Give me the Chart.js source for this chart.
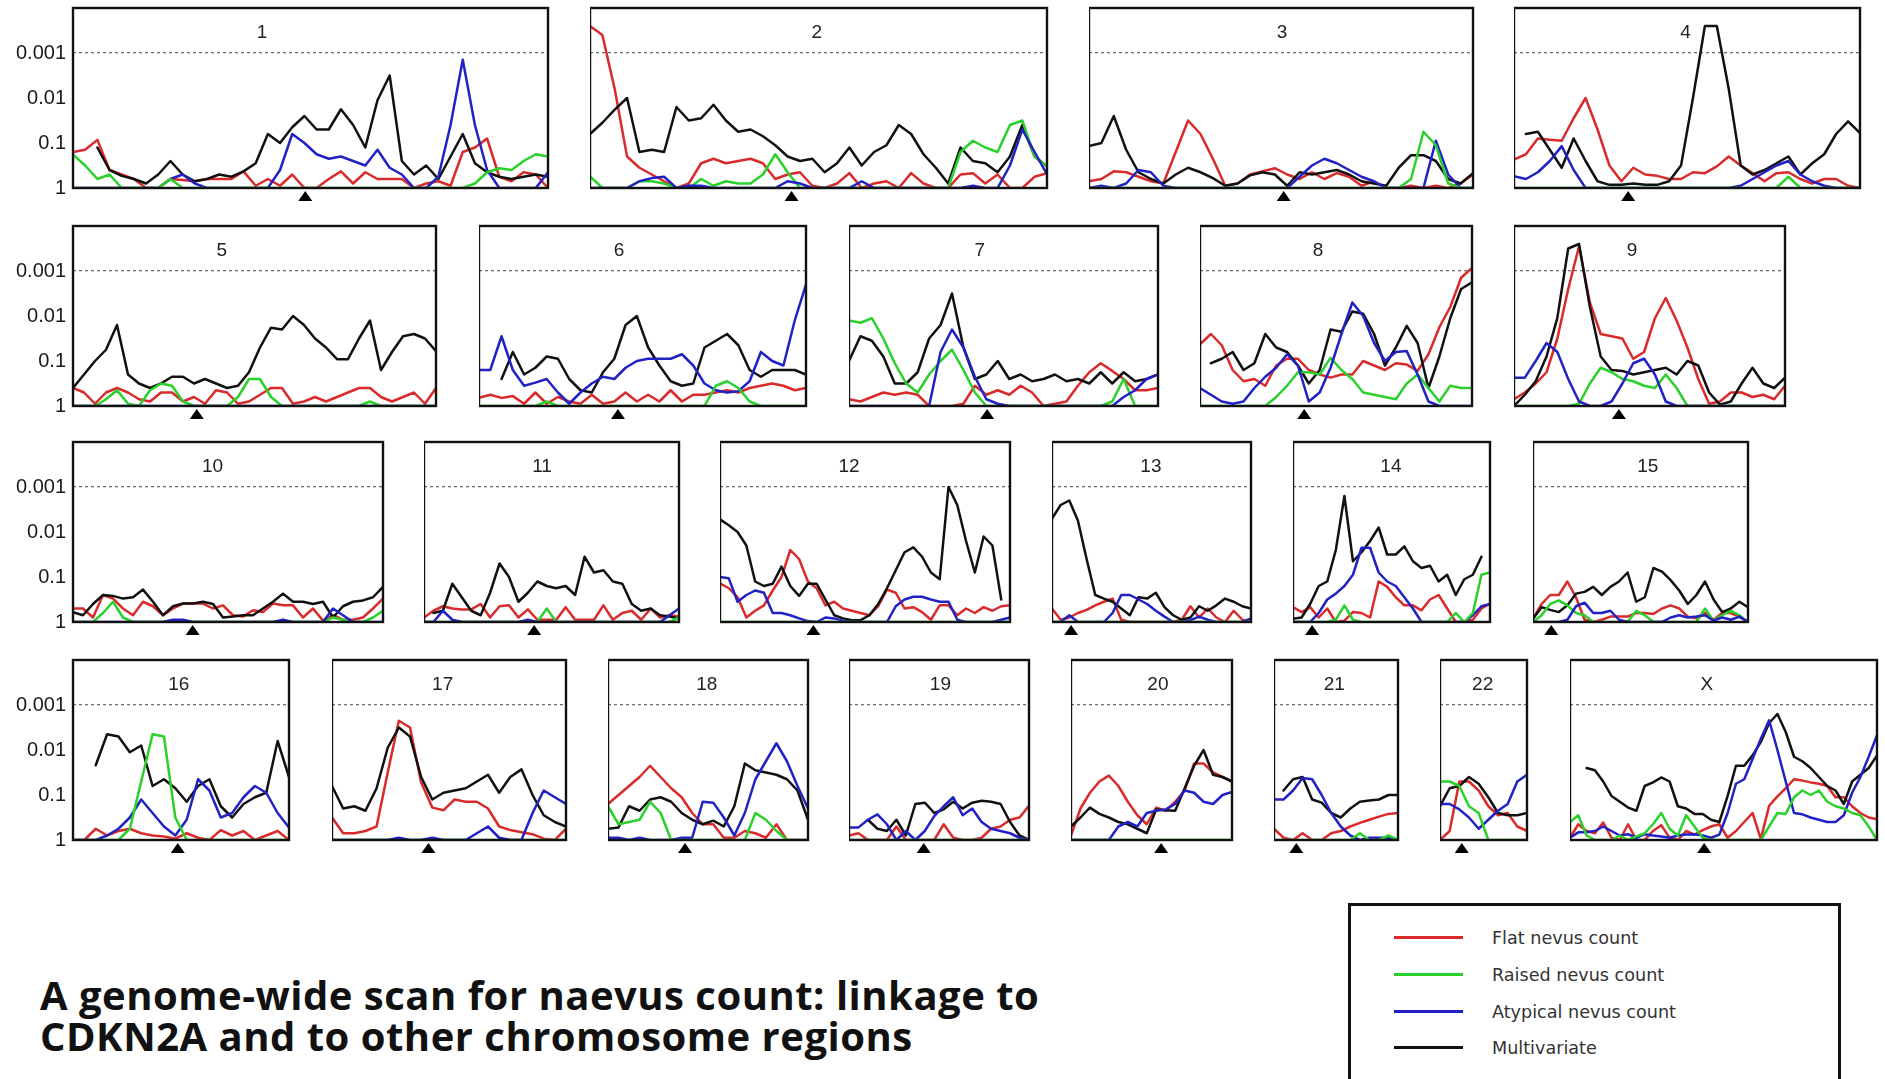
<!DOCTYPE html>
<html>
<head>
<meta charset="utf-8">
<title>Genome-wide scan for naevus count</title>
<script src="https://cdn.jsdelivr.net/npm/chart.js@4.4.1/dist/chart.umd.min.js"></script>
<style>
  html, body { margin: 0; padding: 0; background: #fff; }
  body { position: relative; width: 1885px; height: 1079px; overflow: hidden; }
  canvas { position: absolute; }
  #caption {
    position: absolute; left: 40px; top: 974px;
    font-family: "Open Sans", "DejaVu Sans", sans-serif; font-weight: 700;
    font-size: 40px; line-height: 41px; letter-spacing: 0.5px; color: #111; white-space: nowrap;
  }
  #legend {
    position: absolute; left: 1348px; top: 903px; width: 487px; height: 200px;
    border: 3px solid #111; background: #fff;
  }
  #legend .item {
    position: absolute; left: 43px; height: 24px; line-height: 24px;
    font-family: "DejaVu Sans", sans-serif; font-size: 17.6px; color: #333; white-space: nowrap;
  }
  #legend .swatch {
    position: absolute; left: 0; top: 10px; width: 69px; height: 3px;
  }
  #legend .text { position: absolute; left: 98px; top: 0; }
</style>
</head>
<body>
<div id="caption">A genome-wide scan for naevus count: linkage to<br>CDKN2A and to other chromosome regions</div>
<div id="legend"></div>
<script>
// -log10(p) values along each chromosome, one array per trait and chromosome.
const chromosomes = ['1','2','3','4','5','6','7','8','9','10','11','12','13','14','15','16','17','18','19','20','21','22','X'];
const pValueLabels = ['1', '0.1', '0.01', '0.001'];

const flat1 = [0.8,0.85,1.07,0.4,0.3,0.2,0,0,0.2,0.18, 0.15,0.2,0.2,0.2,0.37,0.05,0.2,0.05,0.3,0, 0,0.2,0.37,0.1,0.35,0.2,0.2,0.2,0,0.1, 0.15,0.05,0.8,0.9,1.1,0.25,0.15,0.35,0.3,0];
const raised1 = [0.74,0.5,0.2,0.3,0,0,0,0,0.2,0, 0,0,0,0,0,0,0,0,0,0, 0,0,0,0,0,0,0,0,0,0, 0,0,0,0.1,0.35,0.44,0.4,0.6,0.75,0.7];
const atyp1 = [0,0,0,0,0,0,0,0,0.2,0.3, 0.1,0,0,0,0,0,0,0.4,1.2,1.0, 0.75,0.65,0.7,0.6,0.5,0.85,0.45,0.3,0,0, 0.25,1.4,2.85,1.4,0.4,0,0,0,0,0.35];
const multi1 = [null,null,0.9,0.4,0.27,0.2,0.1,0.3,0.6,0.3, 0.15,0.2,0.3,0.25,0.37,0.55,1.2,1.0,1.35,1.6, 1.3,1.3,1.75,1.4,0.9,1.95,2.5,0.6,0.3,0.5, 0.2,0.7,1.2,0.55,0.35,0.25,0.2,0.25,0.3,0.25];

const flat2 = [3.6,3.4,2.2,0.7,0.45,0.3,0.15,0,0.1,0.55, 0.65,0.55,0.6,0.65,0.55,0.2,0.3,0.35,0.05,0, 0.1,0.33,0,0.1,0.15,0,0.33,0.1,0,0, 0.3,0.33,0.1,0.3,0,0,0.25,0.33];
const raised2 = [0.26,0,0,0,0.15,0.15,0.1,0,0,0.2, 0.05,0.15,0.1,0.1,0.3,0.75,0.35,0,0,0, 0,0,0,0,0,0,0,0,0,0, 0.8,1.05,0.9,0.8,1.4,1.5,0.7,0.48];
const atyp2 = [0,0,0,0,0.15,0.22,0.25,0,0.05,0.05, 0,0,0,0,0,0,0.15,0.1,0,0, 0,0,0.15,0,0,0,0,0,0,0, 0,0.05,0,0,0.5,1.3,0.8,0.3];
const multi2 = [1.2,1.45,1.74,2.0,0.8,0.85,0.8,1.8,1.5,1.55, 1.85,1.5,1.25,1.3,1.15,0.95,0.7,0.6,0.65,0.35, 0.55,0.9,0.5,0.8,0.95,1.4,1.2,0.75,0.45,0.1, 0.9,0.6,0.55,0.35,0.7,1.4,0.7,0.48];

const flat3 = [0.15,0.2,0.37,0.35,0.25,0.15,0.1,0.8,1.5,1.2, 0.65,0.05,0.1,0.3,0.37,0.44,0.3,0.2,0.35,0.2, 0.33,0.25,0.05,0.15,0,0,0.05,0,0.05,0, 0.1,0.3];
const raised3 = [0,0,0,0,0,0,0,0,0,0, 0,0,0,0,0,0,0,0,0,0, 0,0,0,0,0,0,0.2,1.25,0.95,0.1, 0,0];
const atyp3 = [0,0.05,0,0.1,0.4,0.35,0.05,0,0,0, 0,0,0,0,0,0,0,0.25,0.5,0.65, 0.55,0.4,0.25,0.15,0,0,0,0,1.05,0.3, 0,0];
const multi3 = [0.93,1.0,1.6,0.85,0.35,0.2,0.1,0.3,0.45,0.35, 0.22,0.05,0.1,0.28,0.35,0.3,0.05,0.35,0.3,0.35, 0.4,0.3,0.15,0.1,0.05,0.45,0.73,0.73,0.6,0.2, 0.1,0.33];

const flat4 = [0.63,0.75,1.1,1.07,1.05,1.55,2.0,1.3,0.5,0.15, 0.45,0.3,0.27,0.2,0.2,0.35,0.33,0.48,0.7,0.5, 0.33,0.15,0.33,0.35,0.2,0.1,0.2,0.2,0.05,0];
const raised4 = [0,0,0,0,0,0,0,0,0,0, 0,0,0,0,0,0,0,0,0,0, 0,0,0,0.25,0,0,0,0,0,0];
const atyp4 = [0.26,0.2,0.35,0.6,0.93,0.4,0,0,0,0, 0,0,0,0,0,0,0,0,0,0.05, 0.2,0.35,0.5,0.6,0.3,0.15,0.05,0,0,0];
const multi4 = [null,1.2,1.25,0.85,0.45,1.1,0.6,0.15,0.07,0.07, 0.1,0.07,0.07,0.15,0.5,2.0,3.6,3.6,2.2,0.5, 0.3,0.4,0.55,0.7,0.3,0.55,0.75,1.2,1.48,1.22];

const flat5 = [0.4,0.3,0.05,0.3,0.4,0.3,0.15,0.1,0.3,0.3, 0.1,0.2,0.05,0.35,0.3,0.05,0.1,0.25,0.4,0.4, 0.05,0.1,0.2,0.1,0.2,0.3,0.4,0.4,0.2,0.1, 0.2,0.3,0.05,0.4];
const raised5 = [0,0,0,0.15,0.35,0.05,0,0.35,0.5,0.45, 0.1,0,0,0,0,0.2,0.6,0.6,0.2,0, 0,0,0,0,0,0,0,0.1,0,0, 0,0,0,0];
const atyp5 = [0,0,0,0,0,0,0,0,0,0, 0,0,0,0,0,0,0,0,0,0, 0,0,0,0,0,0,0,0,0,0, 0,0,0,0];
const multi5 = [0.4,0.7,1.0,1.25,1.8,0.7,0.5,0.4,0.5,0.65, 0.65,0.5,0.6,0.5,0.4,0.45,0.75,1.3,1.74,1.7, 2.0,1.8,1.5,1.3,1.04,1.04,1.5,1.9,0.8,1.2, 1.55,1.6,1.5,1.22];

const flat6 = [0.18,0.25,0.18,0.22,0.05,0.3,0.05,0.2,0.1,0.05, 0.25,0.05,0.1,0.3,0.1,0.25,0.1,0.35,0.1,0.25, 0.25,0.3,0.35,0.3,0.4,0.45,0.5,0.45,0.35,0.4];
const raised6 = [0,0,0,0,0,0,0.1,0,0,0, 0,0,0,0,0,0,0,0,0,0, 0,0.45,0.55,0.4,0.1,0,0,0,0,0];
const atyp6 = [0.8,0.8,1.55,0.8,0.45,0.52,0.6,0.3,0.05,0.3, 0.5,0.65,0.6,0.85,1.0,1.05,1.05,1.05,1.15,0.9, 0.5,0.35,0.3,0.33,0.55,1.2,1.0,0.9,1.9,2.7];
const multi6 = [null,null,0.6,1.2,0.7,0.85,1.1,1.05,0.6,0.35, 0.3,0.75,1.05,1.8,2.0,1.3,0.9,0.55,0.45,0.5, 1.3,1.45,1.6,1.35,0.8,0.65,0.8,0.8,0.8,0.7];

const flat7 = [0.15,0.1,0.2,0.3,0.25,0.3,0.25,0,0,0, 0.05,0.45,0.25,0.35,0.25,0.45,0.3,0,0.05,0.1, 0.45,0.75,0.95,0.78,0.6,0.35,0.35,0.4];
const raised7 = [1.9,1.85,1.95,1.5,0.95,0.5,0.3,0.7,1.0,1.25, 0.8,0.3,0,0,0,0,0,0,0,0, 0,0,0,0.1,0.6,0,0,0];
const atyp7 = [0,0,0,0,0,0,0,0,1.2,1.7, 1.3,0.65,0.15,0.05,0,0,0,0,0,0, 0,0,0,0,0.2,0.35,0.6,0.7];
const multi7 = [1.0,1.55,1.45,1.1,0.5,0.5,0.75,1.5,1.8,2.5, 1.3,0.6,0.7,1.0,0.6,0.7,0.55,0.6,0.7,0.55, 0.6,0.5,0.75,0.5,0.75,0.55,0.6,0.7];

const flat8 = [1.37,1.6,1.35,0.8,0.55,0.6,0.45,0.9,1.05,1.05, 0.8,0.7,0.63,0.7,0.7,1.0,0.9,0.8,0.95,0.92, 0.78,1.15,1.75,2.2,2.85,3.07];
const raised8 = [0,0,0,0,0,0,0,0.2,0.45,0.75, 0.75,0.7,1.07,0.8,0.6,0.3,0.25,0.2,0.15,0.5, 0.7,0.4,0.1,0.45,0.4,0.4];
const atyp8 = [0.4,0.25,0.1,0.05,0.1,0.4,0.65,0.85,1.15,0.9, 0.1,0.3,0.85,1.6,2.3,2.0,1.4,1.0,1.2,1.22, 0.7,0.1,0,0,0,0];
const multi8 = [null,0.95,1.05,1.2,0.8,0.95,1.6,1.3,1.2,0.9, 0.5,0.8,1.7,1.65,2.1,2.05,1.6,0.9,1.3,1.78, 1.4,0.4,1.1,1.95,2.6,2.75];

const flat9 = [0.15,0.3,0.5,0.75,1.5,2.6,3.55,2.3,1.6,1.55, 1.5,1.05,1.2,1.95,2.4,1.9,1.3,0.6,0.05,0.1, 0.3,0.3,0.2,0.25,0.15,0.45];
const raised9 = [0,0,0,0,0,0,0.05,0.5,0.85,0.75, 0.6,0.55,0.45,0.4,0.7,0.4,0,0,0,0, 0,0,0,0,0,0];
const atyp9 = [0.63,0.63,1.0,1.4,1.2,0.6,0.1,0,0,0.1, 0.5,0.95,1.05,0.7,0.1,0,0,0,0,0, 0,0,0,0,0,0];
const multi9 = [0,0.25,0.55,1.1,1.96,3.5,3.6,2.2,1.1,0.8, 0.78,0.7,0.75,0.8,0.85,0.7,1.0,0.9,0.3,0.03, 0.1,0.5,0.85,0.5,0.4,0.63];

const flat10 = [0.3,0.3,0.1,0.6,0.52,0.3,0.15,0.45,0.35,0.15, 0.3,0.41,0.41,0.41,0.3,0.37,0.15,0.12,0.26,0.22, 0.41,0.37,0.37,0.1,0.3,0.03,0.15,0.05,0.05,0.1, 0.3,0.52];
const raised10 = [0,0,0,0.2,0.45,0.1,0,0,0,0, 0,0,0,0,0,0,0,0,0,0, 0,0,0,0,0,0,0.1,0.05,0,0, 0.1,0.25];
const atyp10 = [0,0,0,0,0,0,0,0,0,0, 0.05,0.05,0,0,0,0,0,0,0,0, 0,0.05,0,0,0,0,0.3,0.15,0,0, 0,0];
const multi10 = [0.22,0.15,0.4,0.6,0.58,0.52,0.55,0.72,0.45,0.15, 0.35,0.41,0.41,0.45,0.4,0.1,0.12,0.15,0.15,0.3, 0.45,0.63,0.45,0.45,0.4,0.45,0.1,0.35,0.45,0.48, 0.55,0.78];

const flat11 = [0.1,0.25,0.35,0.3,0.28,0.28,0.4,0.1,0.35,0.37, 0.1,0.28,0.05,0.05,0.05,0.33,0.05,0.05,0.05,0.37, 0.05,0.2,0.25,0.05,0.3,0.1,0.15,0.12];
const raised11 = [0,0,0,0,0,0,0,0,0,0, 0,0,0,0.3,0,0,0,0,0,0, 0,0,0,0,0,0,0,0.1];
const atyp11 = [0,0,0.25,0.05,0,0,0,0,0,0, 0,0.05,0,0,0,0,0,0,0,0, 0,0,0,0,0,0,0.15,0.3];
const multi11 = [null,0.2,0.25,0.85,0.55,0.25,0.15,0.65,1.3,1.0, 0.45,0.65,0.9,0.8,0.75,0.8,0.6,1.45,1.1,1.15, 0.9,0.85,0.4,0.25,0.3,0.15,0.12,0.08];

const flat12 = [0.86,0.75,0.55,0.1,0.25,0.37,0.7,1.0,1.6,1.4, 0.9,0.75,0.37,0.45,0.3,0.25,0.2,0.15,0.35,0.72, 0.65,0.3,0.33,0.22,0.05,0.37,0.37,0.15,0.3,0.2, 0.33,0.25,0.35,0.37];
const raised12 = [0,0,0,0,0,0,0,0,0,0, 0,0,0,0,0,0,0,0,0,0, 0,0,0,0,0,0,0,0,0,0, 0,0,0,0];
const atyp12 = [1.0,0.97,0.45,0.6,0.7,0.65,0.2,0.2,0.15,0.08, 0.02,0,0.1,0.08,0.03,0,0,0,0,0, 0.35,0.5,0.56,0.56,0.5,0.45,0.45,0.05,0,0, 0,0,0.05,0.1];
const multi12 = [2.28,2.15,2.0,1.7,0.9,0.8,0.85,1.23,0.8,0.58, 0.85,0.85,0.5,0.15,0.08,0.04,0.04,0.15,0.4,0.75, 1.15,1.55,1.66,1.45,1.1,0.95,3.0,2.6,1.8,1.1, 1.9,1.7,0.5,null];

const flat13 = [0.3,0.05,0.1,0.2,0.27,0.37,0.45,0.52,0.05,0, 0,0,0,0,0,0.05,0.35,0.1,0.3,0.1, 0,0.25,0.05,0];
const raised13 = [0,0,0,0,0,0,0,0,0,0, 0,0,0,0,0,0,0,0,0,0, 0,0,0,0];
const atyp13 = [0,0,0.15,0,0,0,0,0.2,0.6,0.6, 0.5,0.4,0.25,0.12,0,0,0.04,0.12,0.05,0, 0,0,0,0.08];
const multi13 = [2.3,2.6,2.7,2.25,1.4,0.6,0.52,0.45,0.3,0.15, 0.55,0.52,0.65,0.33,0.15,0.05,0.1,0.35,0.25,0.37, 0.52,0.45,0.35,0.3];

const flat14 = [0.33,0.22,0.33,0.1,0.3,0,0.03,0.22,0.2,0.1, 0.9,0.78,0.55,0.37,0.37,0.26,0.5,0.6,0.3,0, 0,0.05,0.3,0.41];
const raised14 = [0,0,0,0,0,0.05,0.37,0.05,0,0, 0,0,0,0,0,0,0,0,0,0.2, 0,0.2,1.05,1.1];
const atyp14 = [0,0,0,0.2,0.5,0.63,0.8,1.05,1.65,1.65, 1.1,0.9,0.8,0.55,0.3,0,0,0,0,0, 0,0.15,0.35,0.4];
const multi14 = [0.07,0.1,0.4,0.8,0.9,1.6,2.8,1.35,1.55,1.8, 2.1,1.5,1.5,1.68,1.35,1.2,1.25,0.9,1.05,0.6, 0.95,1.05,1.45,null];

const flat15 = [0.07,0.4,0.6,0.6,0.9,0.55,0.05,0,0.05,0.12, 0.12,0.12,0.2,0.2,0.18,0.3,0.37,0.3,0.12,0.08, 0.2,0.05,0.2,0.2,0.12,0];
const raised15 = [0,0.15,0.4,0.48,0.37,0.2,0.15,0,0,0, 0,0,0.25,0.15,0,0,0,0,0,0, 0.3,0.03,0.15,0.25,0.15,0];
const atyp15 = [0,0,0,0,0.05,0.35,0.43,0.2,0.2,0.25, 0.05,0,0,0,0,0,0.1,0.15,0.1,0.12, 0.15,0.03,0.1,0.05,0.12,0];
const multi15 = [0.07,0.33,0.27,0.22,0.37,0.63,0.67,0.78,0.6,0.78, 0.9,1.1,0.45,0.55,1.2,1.12,0.93,0.7,0.4,0.6, 0.9,0.5,0.22,0.3,0.45,0.33];

const flat16 = [0,0,0.25,0.1,0.2,0.25,0.15,0.1,0.08,0.03, 0.15,0.05,0,0.22,0.1,0.2,0,0.1,0.2,0];
const raised16 = [0,0,0,0,0,0.25,1.3,2.35,2.3,0.5, 0,0,0,0,0,0,0,0,0,0];
const atyp16 = [0,0,0,0.1,0.25,0.5,0.9,0.6,0.3,0.1, 0.45,1.35,1.1,0.5,0.6,0.95,1.2,1.05,0.6,0.28];
const multi16 = [null,null,1.66,2.35,2.3,1.95,2.1,1.2,1.35,1.15, 0.85,1.2,1.35,0.75,0.5,0.8,0.95,1.05,2.2,1.4];

const flat17 = [0.5,0.15,0.15,0.2,0.3,1.5,2.65,2.5,1.28,0.72, 0.66,0.9,0.85,0.85,0.7,0.3,0.22,0.17,0.13,0.03, 0,0.25];
const raised17 = [0,0,0,0,0,0,0,0,0,0, 0,0,0,0,0,0,0,0,0,0, 0,0];
const atyp17 = [0,0,0,0,0,0,0.05,0,0,0.05, 0,0,0,0.15,0.3,0.05,0,0,0.6,1.1, 0.95,0.8];
const multi17 = [1.2,0.7,0.75,0.65,1.15,2.05,2.5,2.3,1.4,0.9, 1.05,1.1,1.15,1.3,1.45,1.05,1.4,1.57,1.0,0.55, 0.4,0.3];

const flat18 = [0.8,1.0,1.2,1.4,1.65,1.4,1.15,0.95,0.6,0.35, 0.35,0.05,0.05,0.2,0.15,0.05,0.35,0,0,0];
const raised18 = [0.75,0.35,0.4,0.45,0.85,0.6,0,0,0,0, 0,0,0,0,0.6,0.45,0.2,0,0,0];
const atyp18 = [0.05,0.05,0,0.05,0,0,0,0.05,0.05,0.85, 0.83,0.5,0.1,0.6,1.35,1.75,2.15,1.75,1.2,0.7];
const multi18 = [0.25,0.28,0.75,0.65,0.9,0.95,0.85,0.6,0.45,0.35, 0.43,0.3,0.75,1.7,1.55,1.5,1.45,1.35,1.1,0.45];

const flat19 = [0.1,0.15,0,0,0,0.3,0,0,0,0, 0.35,0.05,0,0,0.05,0.25,0.3,0.45,0.5,0.76];
const raised19 = [0,0,0,0,0,0,0,0,0,0, 0,0,0,0,0,0,0,0,0,0];
const atyp19 = [0.28,0.28,0.45,0.57,0.35,0,0.2,0,0.2,0.53, 0.75,0.95,0.55,0.7,0.4,0.25,0.2,0.15,0.05,0];
const multi19 = [null,null,0.45,0.25,0.2,0.45,0.1,0.8,0.83,0.6, 0.68,0.85,0.7,0.83,0.87,0.85,0.8,0.4,0.1,0];

const flat20 = [0.1,0.7,1.05,1.3,1.43,1.2,0.85,0.55,0.35,0.72, 0.65,0.85,1.1,1.7,1.7,1.5,1.4,1.3];
const raised20 = [0,0,0,0,0,0,0,0,0,0, 0,0,0,0,0,0,0,0];
const atyp20 = [0,0,0,0,0,0.3,0.4,0.3,0.6,0.65, 0.68,0.8,1.1,1.05,0.85,0.8,1.0,1.07];
const multi20 = [0.3,0.5,0.72,0.58,0.5,0.4,0.35,0.25,0.15,0.68, 0.66,0.65,1.15,1.65,2.0,1.45,1.4,1.3];

const flat21 = [0.25,0.05,0,0.15,0,0,0.15,0.2,0.3,0.38, 0.45,0.52,0.58,0.6];
const raised21 = [0,0,0,0,0,0,0,0,0,0.15, 0,0,0.1,0];
const atyp21 = [0.9,0.9,1.1,1.38,1.35,1.0,0.6,0.3,0.1,0, 0.05,0.05,0.05,0];
const multi21 = [null,1.1,1.35,1.4,0.9,0.83,0.6,0.5,0.7,0.85, 0.88,0.9,1.0,1.0];

const flat22 = [0,0.2,1.3,1.3,1.1,0.75,0.55,0.6,0.3,0.2];
const raised22 = [1.3,1.3,1.2,0.75,0.6,0,0,0,0,0];
const atyp22 = [0.8,0.8,0.68,0.5,0.25,0.45,0.65,0.8,1.3,1.45];
const multi22 = [0.75,1.15,1.2,1.4,1.25,0.95,0.6,0.55,0.55,0.6];

const flatX = [0.05,0.35,0.2,0.15,0.39,0.05,0,0.35,0,0, 0.2,0.33,0.05,0,0.2,0.12,0.22,0.3,0.35,0.05, 0.2,0.4,0.6,0.02,0.76,0.97,1.15,1.35,1.32,1.28, 1.25,1.2,0.95,0.95,0.75,0.6,0.5,0.46];
const raisedX = [0.4,0.55,0.1,0,0,0,0.1,0,0.08,0.15, 0.35,0.6,0.25,0.1,0.55,0.3,0.05,0,0,0, 0,0,0,0,0.3,0.6,0.58,0.95,1.1,1.0, 1.1,0.85,0.75,0.7,0.6,0.55,0.3,0];
const atypX = [0.05,0.17,0.17,0.2,0.3,0.2,0.1,0.13,0.05,0.13, 0.1,0.08,0.05,0.1,0.12,0.13,0.1,0.05,0.12,0.6, 1.25,1.35,1.8,2.25,2.66,2.0,1.3,0.6,0.57,0.5, 0.45,0.4,0.4,0.55,1.05,1.4,1.85,2.33];
const multiX = [null,null,1.6,1.55,1.3,0.98,0.85,0.72,0.65,1.2, 1.28,1.39,1.3,0.75,0.7,0.58,0.58,0.45,0.4,0.98, 1.65,1.65,1.88,2.18,2.6,2.8,2.4,1.85,1.75,1.6, 1.4,1.2,1.1,0.8,1.3,1.45,1.6,1.88];

// centromere position as a fraction of each chromosome's length
const centromere = [0.489,0.441,0.507,0.330,0.341,0.425,0.447,0.383,0.387,0.386,0.432,0.322,0.096,0.097,0.085,0.485,0.412,0.385,0.415,0.56,0.18,0.25,0.437];

const flatSeries   = [flat1,flat2,flat3,flat4,flat5,flat6,flat7,flat8,flat9,flat10,flat11,flat12,flat13,flat14,flat15,flat16,flat17,flat18,flat19,flat20,flat21,flat22,flatX];
const raisedSeries = [raised1,raised2,raised3,raised4,raised5,raised6,raised7,raised8,raised9,raised10,raised11,raised12,raised13,raised14,raised15,raised16,raised17,raised18,raised19,raised20,raised21,raised22,raisedX];
const atypSeries   = [atyp1,atyp2,atyp3,atyp4,atyp5,atyp6,atyp7,atyp8,atyp9,atyp10,atyp11,atyp12,atyp13,atyp14,atyp15,atyp16,atyp17,atyp18,atyp19,atyp20,atyp21,atyp22,atypX];
const multiSeries  = [multi1,multi2,multi3,multi4,multi5,multi6,multi7,multi8,multi9,multi10,multi11,multi12,multi13,multi14,multi15,multi16,multi17,multi18,multi19,multi20,multi21,multi22,multiX];

// page layout: panel frame [left, top, width] in px, all frames 180 px tall
const frames = [
  [73,8,475],[590,8,457],[1089,8,384],[1514,8,346],
  [73,226,363],[479,226,327],[849,226,309],[1200,226,272],[1514,226,271],
  [73,442,310],[424,442,255],[720,442,290],[1052,442,199],[1293,442,197],[1533,442,215],
  [73,660,216],[332,660,234],[608,660,200],[849,660,180],[1071,660,161],[1274,660,124],[1440,660,87],[1570,660,307]
];
const PANEL_H = 180;
const titleAt = [0.398,0.496,0.503,0.496,0.41,0.428,0.423,0.434,0.436,0.45,0.463,0.445,0.497,0.497,0.534,0.49,0.473,0.494,0.508,0.54,0.486,0.49,0.446];
// which of the green / blue traces is painted last, so it shows along the p = 1 floor
const floorTrace = ['g','b','g','g','b','g','b','b','b','b','b','g','g','g','b','g','b','g','g','g','g','g','g'];

const traits = [
  { key: 'flat',   name: 'Flat nevus count',     color: '#d92b2b' },
  { key: 'raised', name: 'Raised nevus count',   color: '#2bd12b' },
  { key: 'atyp',   name: 'Atypical nevus count', color: '#2222c4' },
  { key: 'multi',  name: 'Multivariate',         color: '#111111' }
];

// frame, chromosome name and centromere marker for each panel
const panelDecor = {
  id: 'panelDecor',
  afterDraw(chart, args, opts) {
    const { ctx, chartArea: a, scales: { x } } = chart;
    ctx.save();
    ctx.strokeStyle = '#111';
    ctx.lineWidth = 2.4;
    ctx.strokeRect(a.left, a.top, a.right - a.left, a.bottom - a.top);
    ctx.fillStyle = '#222';
    ctx.font = '19px "Liberation Sans", Arial, sans-serif';
    ctx.textAlign = 'center';
    ctx.textBaseline = 'middle';
    ctx.fillText(opts.label, a.left + opts.titleAt * (a.right - a.left), a.top + 25);
    const cx = x.getPixelForValue(opts.cen * x.max);
    ctx.fillStyle = '#000';
    ctx.beginPath();
    ctx.moveTo(cx, a.bottom + 3);
    ctx.lineTo(cx - 7, a.bottom + 13);
    ctx.lineTo(cx + 7, a.bottom + 13);
    ctx.closePath();
    ctx.fill();
    ctx.restore();
  }
};

const toPoints = arr => arr.map((v, k) => ({ x: k, y: v }));

chromosomes.forEach((name, i) => {
  const [L, T, W] = frames[i];
  const isLeft = L < 100;
  const cl = isLeft ? 0 : L;
  const cw = W + (L - cl) + 4;
  const ch = PANEL_H + 4 + 22;
  const cv = document.createElement('canvas');
  cv.width = cw; cv.height = ch;
  cv.style.left = cl + 'px'; cv.style.top = (T - 4) + 'px';
  cv.style.width = cw + 'px'; cv.style.height = ch + 'px';
  document.body.appendChild(cv);

  const n = flatSeries[i].length;
  const greenTop = floorTrace[i] === 'g';
  const series = {
    flat: flatSeries[i], raised: raisedSeries[i], atyp: atypSeries[i], multi: multiSeries[i]
  };
  const drawOrder = { flat: 3, multi: 2, raised: greenTop ? 0 : 1, atyp: greenTop ? 1 : 0 };

  new Chart(cv, {
    type: 'line',
    data: {
      datasets: traits.map(t => ({
        label: t.name,
        data: toPoints(series[t.key]),
        borderColor: t.color,
        backgroundColor: t.color,
        order: drawOrder[t.key]
      }))
    },
    options: {
      responsive: false,
      animation: false,
      events: [],
      devicePixelRatio: 1,
      layout: { padding: { top: 4, right: 4, bottom: 22, left: 0 } },
      elements: {
        line: { borderWidth: 2.5, tension: 0, borderJoinStyle: 'round', borderCapStyle: 'round', fill: false },
        point: { radius: 0 }
      },
      scales: {
        x: { type: 'linear', min: 0, max: n - 1, display: false },
        y: {
          min: 0, max: 4,
          afterBuildTicks: ax => { ax.ticks = [0, 1, 2, 3].map(v => ({ value: v })); },
          afterFit: ax => {
            ax.width = isLeft ? L : 0;
            ax.paddingTop = 0;
            ax.paddingBottom = 0;
          },
          border: { display: false, dash: [3, 3] },
          grid: {
            drawTicks: false,
            lineWidth: 1.3,
            color: c => (c.tick && c.tick.value === 3) ? '#6e6e6e' : 'rgba(0,0,0,0)'
          },
          ticks: {
            display: isLeft,
            padding: 7,
            color: '#1a1a1a',
            font: { family: '"Liberation Sans", Arial, sans-serif', size: 20 },
            callback: v => pValueLabels[v]
          }
        }
      },
      plugins: {
        legend: { display: false },
        tooltip: { enabled: false },
        panelDecor: { label: name, titleAt: titleAt[i], cen: centromere[i] }
      }
    },
    plugins: [panelDecor]
  });
});

// key box
const legendBox = document.getElementById('legend');
const legendRows = [32, 69, 106, 142];
traits.forEach((t, k) => {
  const item = document.createElement('div');
  item.className = 'item';
  item.style.top = (legendRows[k] - 12) + 'px';
  const sw = document.createElement('span');
  sw.className = 'swatch';
  sw.style.background = t.color;
  const tx = document.createElement('span');
  tx.className = 'text';
  tx.textContent = t.name;
  item.appendChild(sw);
  item.appendChild(tx);
  legendBox.appendChild(item);
});
</script>
</body>
</html>
